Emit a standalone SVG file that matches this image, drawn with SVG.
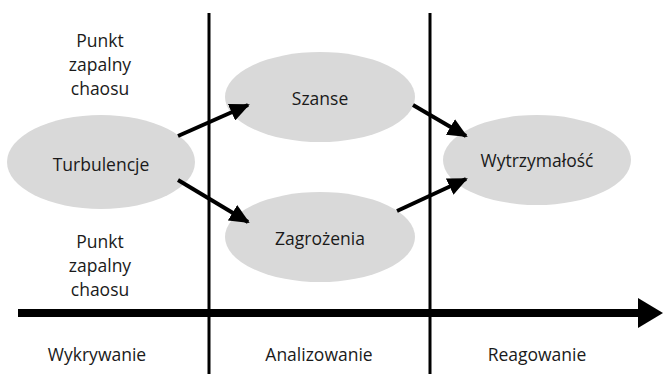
<svg xmlns="http://www.w3.org/2000/svg" width="663" height="374" viewBox="0 0 663 374">
<defs>
<style>
.n{fill:#d9d9d9;stroke:none}
.t{font-family:"Open Sans","Noto Sans",sans-serif;font-size:17.5px;fill:#1a1a1a;text-anchor:middle;dominant-baseline:central}
.c{stroke:#000;stroke-width:4;fill:none}
.v{stroke:#000;stroke-width:3}
</style>
<marker id="ah" markerWidth="5" markerHeight="4.5" refX="4.5" refY="2.25" orient="auto" markerUnits="strokeWidth">
<path d="M0,0 L5,2.25 L0,4.5 z" fill="#000"/>
</marker>
</defs>
<rect width="663" height="374" fill="#fff"/>
<g id="grid">
<line class="v" x1="209" y1="13" x2="209" y2="374"/>
<line class="v" x1="430" y1="13" x2="430" y2="374"/>
<line x1="18" y1="313" x2="642" y2="313" stroke="#000" stroke-width="8"/>
<polygon points="638,298 663,313 638,328" fill="#000"/>
</g>
<g id="labels">
<text class="t" x="100" y="40">Punkt</text>
<text class="t" x="100" y="64">zapalny</text>
<text class="t" x="100" y="88">chaosu</text>
<text class="t" x="100" y="241">Punkt</text>
<text class="t" x="100" y="265">zapalny</text>
<text class="t" x="100" y="289">chaosu</text>
<text class="t" x="97" y="354">Wykrywanie</text>
<text class="t" x="319" y="354">Analizowanie</text>
<text class="t" x="537" y="354">Reagowanie</text>
</g>
<g id="turbulencje">
<ellipse class="n" cx="101" cy="162" rx="94" ry="47"/>
<text class="t" x="101" y="164">Turbulencje</text>
</g>
<g id="szanse">
<ellipse class="n" cx="320" cy="97" rx="95" ry="45"/>
<text class="t" x="320" y="98">Szanse</text>
</g>
<g id="zagrozenia">
<ellipse class="n" cx="320" cy="237" rx="95" ry="45"/>
<text class="t" x="320" y="238">Zagrożenia</text>
</g>
<g id="wytrzymalosc">
<ellipse class="n" cx="537" cy="160" rx="94" ry="45"/>
<text class="t" x="537" y="160">Wytrzymałość</text>
</g>
<g id="connectors">
<line class="c" x1="178" y1="136" x2="248" y2="105" marker-end="url(#ah)"/>
<line class="c" x1="178" y1="180" x2="248" y2="222" marker-end="url(#ah)"/>
<line class="c" x1="413" y1="105" x2="466" y2="136" marker-end="url(#ah)"/>
<line class="c" x1="397" y1="211" x2="466" y2="179" marker-end="url(#ah)"/>
</g>
</svg>
